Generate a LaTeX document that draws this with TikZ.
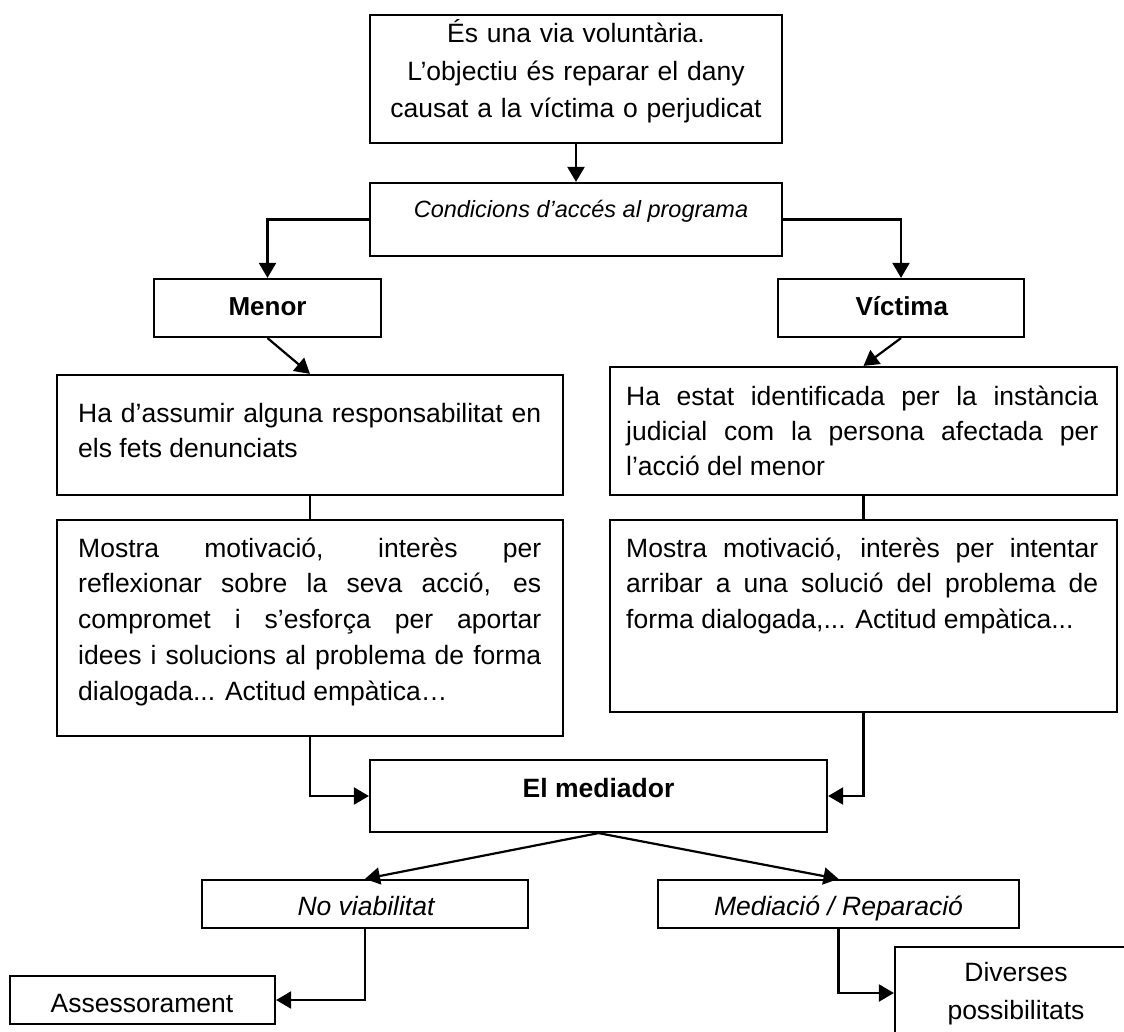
\documentclass[tikz,border=0pt]{standalone}
\usepackage{fontspec}
\setmainfont{Liberation Sans}
\usetikzlibrary{arrows.meta}
\begin{document}
\begin{tikzpicture}[x=1pt,y=-1pt,
  box/.style args={#1x#2}{draw, line width=2.2pt, inner sep=0pt, minimum width=#1pt, minimum height=#2pt},
  txt/.style={inner sep=0pt, font=\fontsize{26.5}{35.75}\selectfont},
  conn/.style={line width=2.2pt},
  arr/.style={line width=2.2pt, -{Triangle[length=15pt,width=17pt]}}
]
\useasboundingbox (0,0) rectangle (1124,1032);
\clip (0,0) rectangle (1124,1032);
\fill[white] (0,0) rectangle (1124,1032);

% boxes
\node[box=412x128] (top) at (576,79) {};
\node[box=412x73] (cond) at (576,219.5) {};
\node[box=227x58] (menor) at (267.5,308) {};
\node[box=246x58] (victima) at (901,308) {};
\node[box=506x120] (hassumir) at (310,435) {};
\node[box=507x128] (hestat) at (863.5,431) {};
\node[box=506x216] (mostraL) at (310,628) {};
\node[box=507x192] (mostraR) at (863.5,616) {};
\node[box=457x72] (mediador) at (598.5,796) {};
\node[box=326x48] (nov) at (365,904) {};
\node[box=361x48] (medrep) at (838.5,904) {};
\node[box=265x48] (assess) at (142.5,1000) {};
\node[box=242x92] (div) at (1016,993) {};

% texts
\node[txt, anchor=base, text width=420pt, align=center, font=\fontsize{26.5}{37.5}\selectfont] (ttop) at (576,43)
  {És una via voluntària.\\ L’objectiu és reparar el dany\\ causat a la víctima o perjudicat};
\node[txt, anchor=base, font=\fontsize{23.5}{28}\selectfont\itshape] (tcond) at (581,218) {Condicions d’accés al programa};
\node[txt, anchor=base, font=\fontsize{26}{30}\selectfont\bfseries] (tmenor) at (267.5,316) {Menor};
\node[txt, anchor=base, font=\fontsize{26}{30}\selectfont\bfseries] (tvictima) at (901.8,316) {Víctima};
\node[txt, anchor=base west, text width=463pt, align=justify, font=\fontsize{26.5}{35}\selectfont] (thassumir) at (78,422)
  {Ha d’assumir alguna responsabilitat en\linebreak els fets denunciats};
\node[txt, anchor=base west, text width=472pt, align=justify, font=\fontsize{26.5}{35}\selectfont] (thestat) at (626,405)
  {Ha estat identificada per la instància\linebreak judicial com la persona afectada per\linebreak l’acció del menor};
\node[txt, anchor=base west, text width=463pt, align=justify] (tmostraL) at (78,557)
  {Mostra motivació, interès per\linebreak reflexionar sobre la seva acció, es\linebreak compromet i s’esforça per aportar\linebreak idees i solucions al problema de forma\linebreak dialogada... Actitud empàtica…};
\node[txt, anchor=base west, text width=472pt, align=justify] (tmostraR) at (626,557)
  {Mostra motivació, interès per intentar\linebreak arribar a una solució del problema de\linebreak forma dialogada,... Actitud empàtica...};
\node[txt, anchor=base, font=\fontsize{26.5}{30}\selectfont\bfseries] (tmed) at (598.5,797) {El mediador};
\node[txt, anchor=base, font=\fontsize{26.5}{30}\selectfont\itshape] (tnov) at (366,915) {No viabilitat};
\node[txt, anchor=base, font=\fontsize{26.5}{30}\selectfont\itshape] (tmedrep) at (838.5,915) {Mediació / Reparació};
\node[txt, anchor=base] (tassess) at (142,1012) {Assessorament};
\node[txt, anchor=base, text width=220pt, align=center, font=\fontsize{26.5}{38}\selectfont] (tdiv) at (1016,981) {Diverses\\ possibilitats};

% connectors
\draw[arr] (top.south) -- (cond.north);
\draw[arr] (cond.west) -| (menor.north);
\draw[arr] (cond.east) -| (victima.north);
\draw[arr] (menor.south) -- (hassumir.north);
\draw[arr] (victima.south) -- (hestat.north);
\draw[conn] (hassumir.south) -- (mostraL.north);
\draw[conn] (hestat.south) -- (mostraR.north);
\draw[arr] (mostraL.south) |- (mediador.west);
\draw[arr] (mostraR.south) |- (mediador.east);
\draw[arr] (mediador.south) -- (nov.north);
\draw[arr] (mediador.south) -- (medrep.north);
\draw[arr] (nov.south) |- (assess.east);
\draw[arr] (medrep.south) |- (div.west);
\end{tikzpicture}
\end{document}
